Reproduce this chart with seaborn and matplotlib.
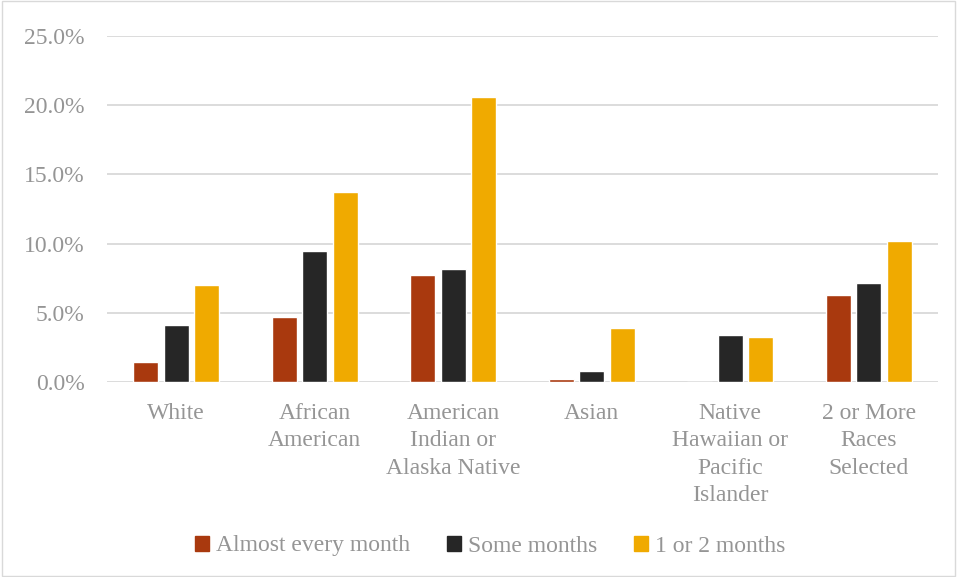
import pandas as pd
import seaborn as sns
import matplotlib.pyplot as plt
from matplotlib.ticker import FuncFormatter
from matplotlib.patches import Rectangle

# Chart data
groups = ["White", "African\nAmerican", "American\nIndian or\nAlaska Native", "Asian",
          "Native\nHawaiian or\nPacific\nIslander", "2 or More\nRaces\nSelected"]
series = ["Almost every month", "Some months", "1 or 2 months"]
almost_every = [1.45, 4.7, 7.7, 0.2, 0.0, 6.3]
some_months = [4.1, 9.5, 8.2, 0.8, 3.4, 7.15]
one_or_two = [7.0, 13.7, 20.6, 3.9, 3.25, 10.2]
colors = ["#A9390E", "#262626", "#F0AA00"]

df = pd.DataFrame({"group": groups * 3,
                   "series": [s for s in series for _ in groups],
                   "value": almost_every + some_months + one_or_two})

sns.set_theme(style="white")
plt.rcParams["font.family"] = ["Liberation Serif", "DejaVu Serif"]
text_color = "#959595"

fig = plt.figure(figsize=(9.57, 5.77), dpi=100)
ax = fig.add_axes([107 / 957, 1 - 382 / 577, 831 / 957, 346 / 577])

sns.barplot(data=df, x="group", y="value", hue="series", order=groups, hue_order=series,
            palette=colors, width=0.66, gap=0.18, saturation=1, ax=ax, legend=True)

ax.set_ylim(0, 25)
ax.set_yticks([0, 5, 10, 15, 20, 25])
ax.yaxis.set_major_formatter(FuncFormatter(lambda v, p: f"{v:.1f}%"))
ax.grid(axis="y", color="#d9d9d9", linewidth=1.3)
ax.set_axisbelow(True)
for s in ax.spines.values():
    s.set_visible(False)
ax.tick_params(axis="both", length=0, labelsize=17, colors=text_color)
ax.tick_params(axis="y", pad=16)
ax.tick_params(axis="x", pad=15)
for lbl in ax.get_xticklabels():
    lbl.set_linespacing(1.4)
ax.set_xlabel("")
ax.set_ylabel("")

# Legend below the plot
ax.legend_.remove()
fig.legend(handles=[Rectangle((0, 0), 1, 1, color=c) for c in colors], labels=series,
           loc="center", bbox_to_anchor=(490 / 957, 1 - 546 / 577), ncol=3, frameon=False,
           fontsize=17, labelcolor=text_color, handlelength=0.6, handleheight=0.6,
           handletextpad=0.3, columnspacing=1.55)

# Light border round the whole chart
fig.patches.append(Rectangle((0.002, 0.002), 0.996, 0.996, transform=fig.transFigure,
                             fill=False, edgecolor="#d9d9d9", linewidth=1))

fig.savefig("out.png", dpi=100)
